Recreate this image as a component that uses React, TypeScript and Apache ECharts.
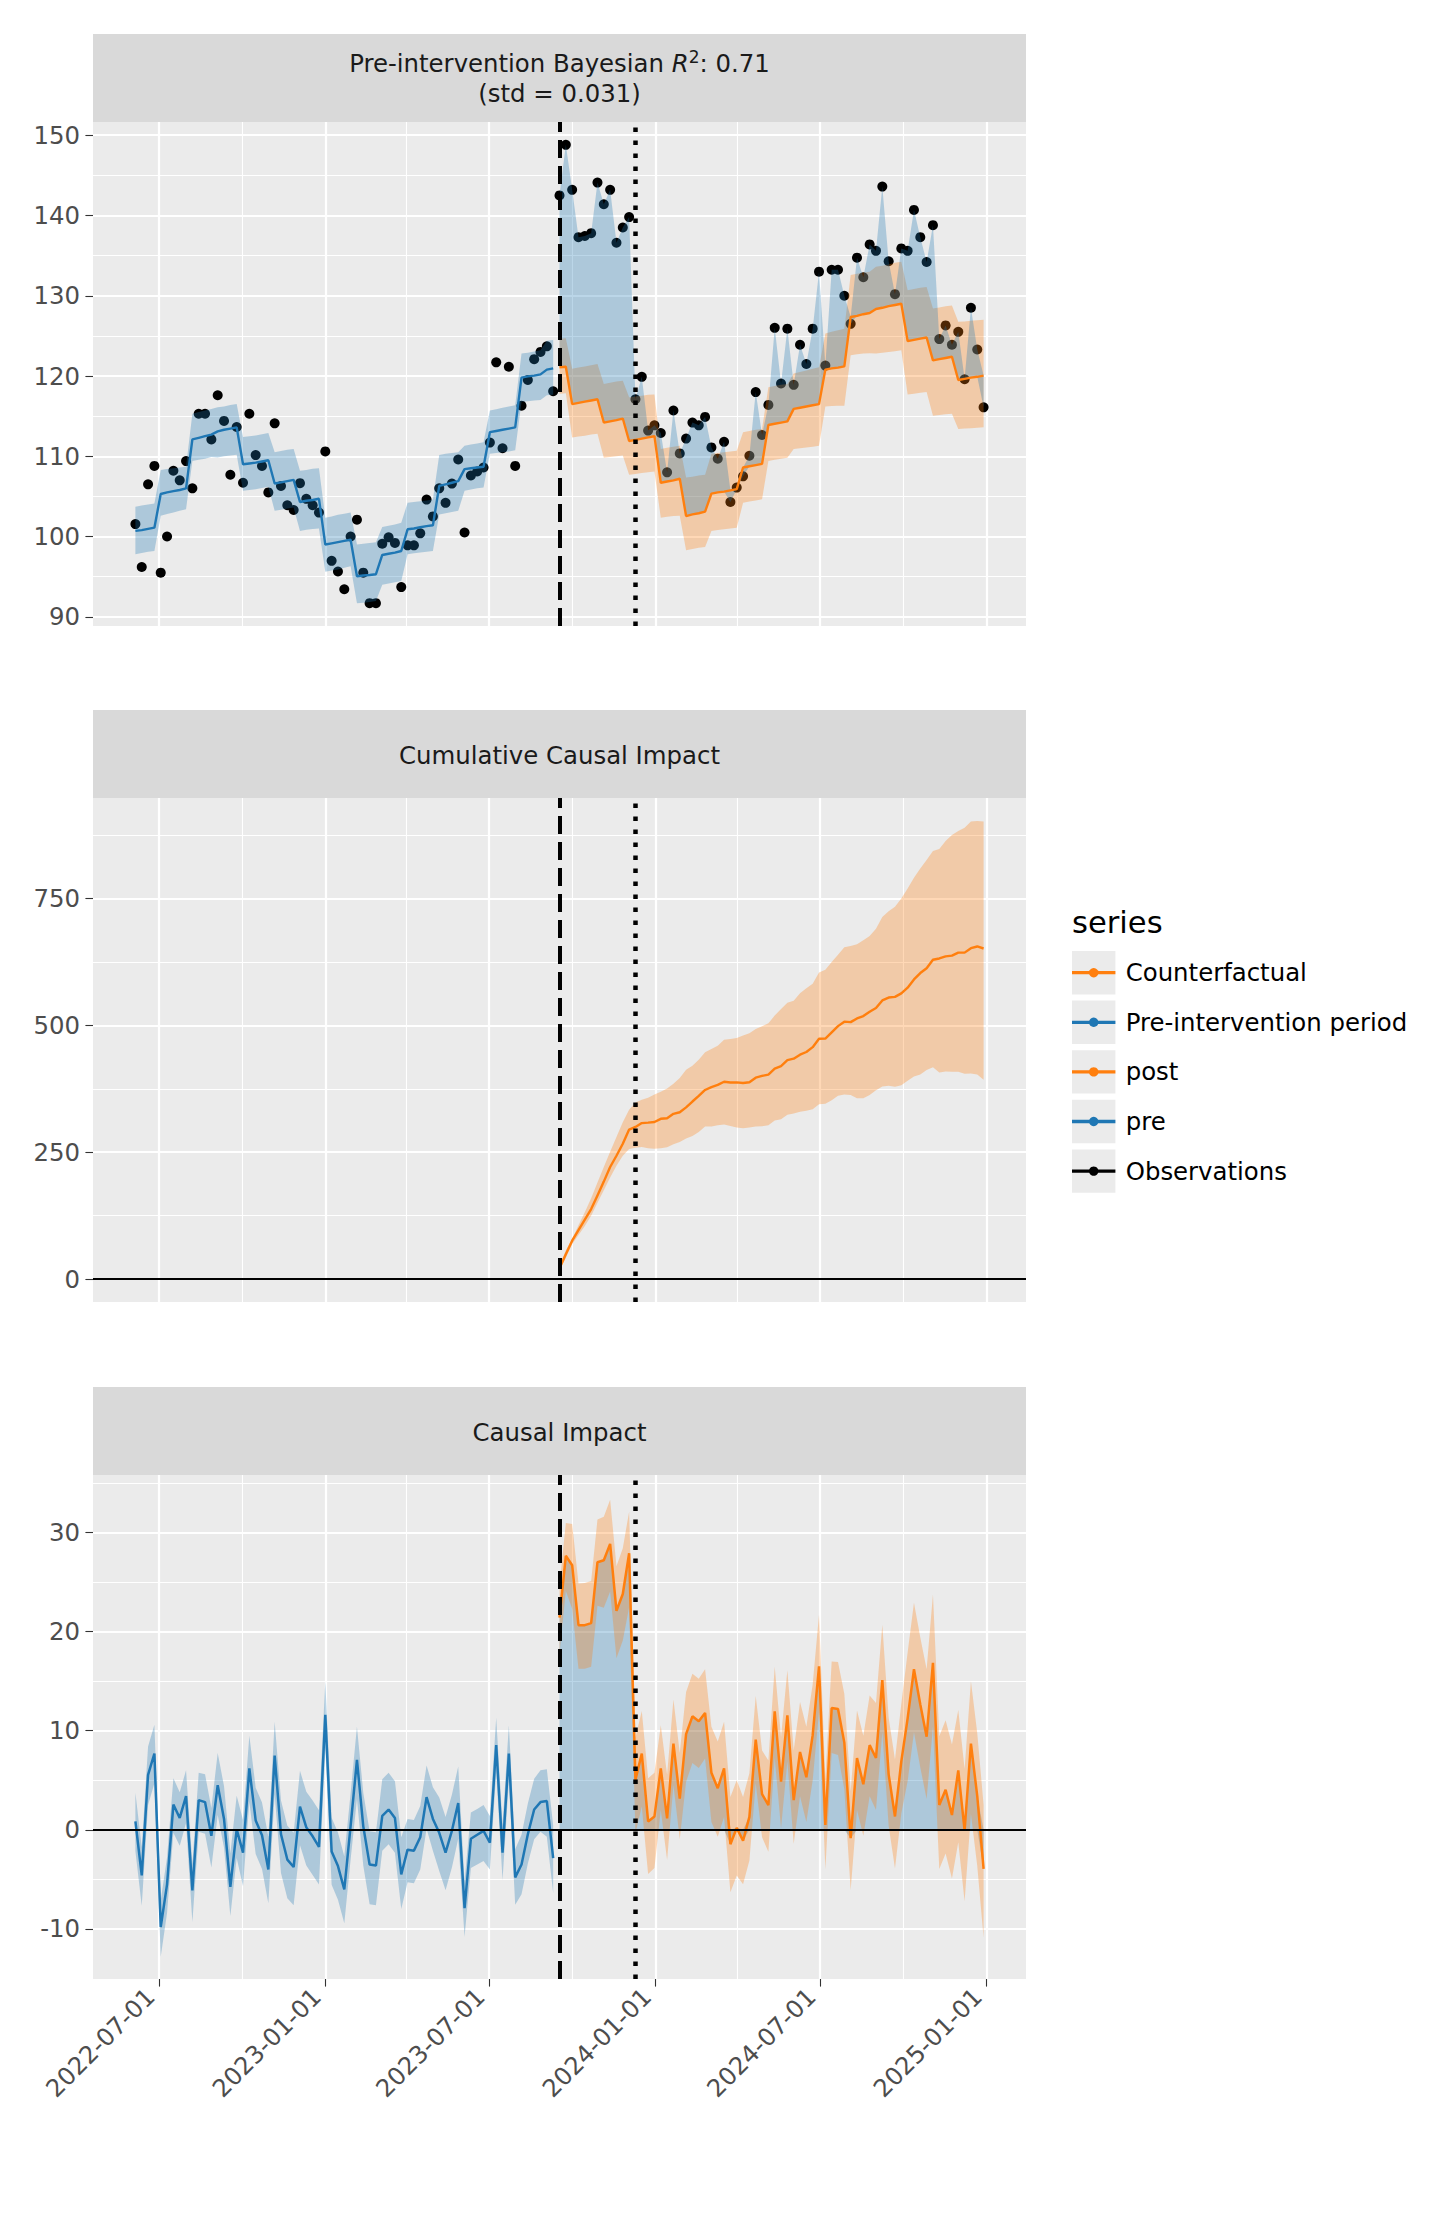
import React, { useEffect, useRef } from "react";
import * as echarts from "echarts";

// ---------------------------------------------------------------------------
// Weekly series (Sundays) from 2022-06-05 to 2024-12-29
// ---------------------------------------------------------------------------
const FIRST_WEEK = "2022-06-05";
const WEEK_COUNT = 135;
const PRE_WEEKS = 67; // weeks before the intervention

const INTERVENTION_DATE = "2023-09-17";
const WINDOW_END_DATE = "2023-12-10";

const dateTicks = ["2022-07-01", "2023-01-01", "2023-07-01", "2024-01-01", "2024-07-01", "2025-01-01"];
const dateMinorTicks = ["2022-10-01", "2023-04-01", "2023-10-01", "2024-04-01", "2024-10-01"];

const fitTicks = [90, 100, 110, 120, 130, 140, 150];
const fitMinorTicks = [95, 105, 115, 125, 135, 145];
const cumulativeTicks = [0, 250, 500, 750];
const cumulativeMinorTicks = [125, 375, 625, 875];
const impactTicks = [-10, 0, 10, 20, 30];
const impactMinorTicks = [-5, 5, 15, 25, 35];

// observed outcome, one value per week
const observed = [
  101.55, 96.2, 106.5, 108.8, 95.5, 100.0, 108.2, 107.0, 109.4, 106.0,
  115.3, 115.3, 112.1, 117.6, 114.4, 107.7, 113.65, 106.7, 115.3, 110.15,
  108.8, 105.5, 114.1, 106.3, 103.9, 103.3, 106.65, 104.7, 103.9, 102.98,
  110.6, 96.97, 95.64, 93.43, 100.0, 102.1, 95.5, 91.7, 91.7, 99.1,
  99.9, 99.2, 93.7, 98.9, 98.9, 100.4, 104.6, 102.5, 106.0, 104.2,
  106.6, 109.6, 100.5, 107.6, 108.1, 108.6, 111.7, 121.7, 111.0, 121.15,
  108.8, 116.3, 119.5, 122.1, 123.0, 123.7, 118.1, 142.5, 148.8, 143.2,
  137.3, 137.45, 137.8, 144.1, 141.4, 143.2, 136.6, 138.5, 139.8, 117.1,
  119.9, 113.2, 113.85, 112.9, 108.0, 115.7, 110.35, 112.2, 114.2, 113.85,
  114.9, 111.1, 109.7, 111.8, 104.3, 106.1, 107.5, 110.06, 118.0, 112.65,
  116.4, 126.0, 119.07, 125.9, 118.9, 123.9, 121.5, 125.9, 133.0, 121.3,
  133.24, 133.24, 130.0, 126.5, 134.75, 132.3, 136.4, 135.6, 143.6, 134.3,
  130.2, 135.9, 135.6, 140.7, 137.3, 134.2, 138.8, 124.6, 126.3, 123.9,
  125.5, 119.6, 128.5, 123.3, 116.1,
];

// pre-intervention model fit (posterior mean) and its HDI
const preFit = [
  100.7, 100.8, 100.95, 101.1,
  105.3, 105.5, 105.65, 105.8, 106.0,
  112.1, 112.3, 112.5, 112.7,
  113.1, 113.3, 113.45, 113.6,
  109.0, 109.1, 109.2, 109.35, 109.5,
  106.6, 106.75, 106.9, 107.05,
  104.3, 104.45, 104.55, 104.7,
  99.0, 99.15, 99.3, 99.45, 99.6,
  95.05, 95.15, 95.2, 95.3,
  97.7, 97.85, 98.0, 98.2,
  100.9, 101.0, 101.15, 101.3, 101.4,
  106.3, 106.5, 106.7, 106.9,
  108.4, 108.5, 108.6, 108.7,
  113.0, 113.15, 113.3, 113.45, 113.6,
  119.8, 119.95, 120.05, 120.2,
  120.8, 120.95,
];
const preUpper = [
  103.7, 103.85, 104.0, 104.1,
  108.3, 108.4, 108.5, 108.6, 108.7,
  115.3, 115.5, 115.7, 115.9,
  116.1, 116.2, 116.4, 116.5,
  112.4, 112.5, 112.6, 112.75, 112.9,
  110.5, 110.65, 110.8, 110.9,
  108.2, 108.3, 108.45, 108.5,
  102.35, 102.5, 102.7, 102.85, 103.0,
  99.0, 99.1, 99.2, 99.3,
  101.2, 101.35, 101.5, 101.7,
  104.2, 104.3, 104.4, 104.5, 104.6,
  110.15, 110.3, 110.4, 110.5,
  111.3, 111.45, 111.6, 111.75,
  115.7, 115.85, 116.05, 116.2, 116.35,
  122.8, 122.9, 123.05, 123.2,
  124.4, 124.5,
];
const preLower = [
  97.8, 97.95, 98.1, 98.2,
  102.6, 102.8, 103.0, 103.2, 103.4,
  109.4, 109.55, 109.7, 109.9,
  109.85, 110.0, 110.1, 110.2,
  105.7, 105.8, 105.9, 106.05, 106.2,
  103.2, 103.35, 103.5, 103.6,
  100.7, 100.85, 100.95, 101.0,
  95.6, 95.75, 95.9, 96.1, 96.3,
  91.7, 91.75, 91.85, 91.95,
  94.0, 94.15, 94.3, 94.45,
  97.8, 97.9, 98.0, 98.1, 98.2,
  102.75, 102.9, 103.05, 103.2,
  105.7, 105.85, 106.0, 106.1,
  110.3, 110.4, 110.5, 110.6, 110.75,
  116.8, 116.85, 116.95, 117.0,
  117.6, 117.65,
];

// counterfactual prediction after the intervention and its HDI
const postFit = [
  121.1, 121.15,
  116.5, 116.65, 116.8, 116.95, 117.1,
  114.2, 114.35, 114.5, 114.7,
  111.9, 112.05, 112.2, 112.35, 112.5,
  106.7, 106.85, 107.0, 107.2,
  102.55, 102.75, 102.9, 103.1,
  105.35, 105.5, 105.6, 105.75, 105.9,
  108.6, 108.75, 108.9, 109.05,
  113.9, 114.05, 114.2, 114.35,
  115.9, 116.05, 116.2, 116.35, 116.5,
  120.8, 120.95, 121.05, 121.2,
  127.35, 127.5, 127.7, 127.85,
  128.35, 128.5, 128.7, 128.85, 129.0,
  124.35, 124.5, 124.65, 124.8,
  121.95, 122.1, 122.25, 122.4,
  119.5, 119.65, 119.8, 119.9, 120.05,
];
const postUpper = [
  124.65, 124.7,
  120.9, 121.05, 121.2, 121.35, 121.5,
  119.0, 119.15, 119.3, 119.4,
  117.35, 117.45, 117.55, 117.65, 117.7,
  110.9, 111.05, 111.2, 111.3,
  107.35, 107.45, 107.6, 107.7,
  110.3, 110.4, 110.5, 110.6, 110.7,
  113.0, 113.15, 113.3, 113.4,
  118.6, 118.75, 118.9, 119.0,
  120.3, 120.5, 120.7, 120.9, 121.1,
  125.3, 125.5, 125.7, 125.9,
  132.6, 132.75, 132.9, 133.0,
  133.6, 133.75, 133.9, 134.1, 134.25,
  130.7, 130.85, 131.0, 131.1,
  128.4, 128.55, 128.7, 128.8,
  126.75, 126.8, 126.9, 126.95, 127.0,
];
const postLower = [
  117.8, 117.85,
  112.35, 112.45, 112.55, 112.7, 112.8,
  109.8, 109.9, 110.0, 110.1,
  107.7, 107.8, 107.9, 108.0, 108.1,
  102.35, 102.45, 102.55, 102.6,
  98.3, 98.45, 98.6, 98.7,
  100.7, 100.8, 100.9, 101.0, 101.1,
  104.2, 104.35, 104.5, 104.65,
  109.4, 109.55, 109.7, 109.8,
  110.9, 111.0, 111.1, 111.2, 111.3,
  116.2, 116.25, 116.3, 116.3,
  122.6, 122.7, 122.8, 122.85,
  122.8, 122.9, 123.0, 123.1, 123.2,
  117.7, 117.8, 117.9, 118.0,
  115.05, 115.15, 115.25, 115.3,
  113.4, 113.45, 113.5, 113.55, 113.6,
];

// HDI of the cumulative causal impact after the intervention
const cumulativeUpper = [
  25, 57, 79.1, 106.1, 131.8, 159.5, 190.5, 220.8, 251.2, 280.2, 309.2, 333.6,
  348, 353.3, 357.3, 363.9, 369.2, 375.7, 385, 396.2, 412.7, 420.6, 432.4, 447,
  453.5, 460.1, 472, 473.3, 475.3, 479.9, 484.5, 493.1, 498.4, 504.3, 519.4, 532.6, 544.5,
  548.5, 563.6, 573.5, 582.1, 604.5, 609.8, 625, 639.4, 653.9, 656.6, 659.9, 667.8, 676.3,
  690.8, 713.9, 725.1, 733.7, 750.2, 769.9, 791, 809.5, 826, 843.8, 847.7, 863.6, 875.4,
  883.3, 889.9, 901.8, 903.1, 901.8,
];
const cumulativeLower = [
  18, 42, 69.2, 87, 104.8, 124.6, 150.3, 175.3, 200.4, 223.5, 243.2, 256.4,
  259.1, 260.4, 257.7, 257.1, 257.7, 259.7, 265.7, 270.3, 276.9, 282.1, 290, 300.6,
  300.6, 303.2, 304.5, 301.9, 298.6, 297.3, 298.6, 300.6, 301.3, 303.2, 312.5, 315.1, 323.7,
  326.3, 329.6, 331.6, 334.9, 344.8, 345.4, 352.7, 361.2, 363.9, 362.6, 356.6, 356.6, 362.6,
  372.4, 379.7, 381, 379, 382.3, 390.9, 399.5, 403.4, 412, 417.3, 407.4, 409.4, 408.7,
  408.7, 404.7, 405.4, 403.4, 392.9,
];

const legendLabels = ["Counterfactual", "Pre-intervention period", "post", "pre", "Observations"];

// ---------------------------------------------------------------------------
// styling
// ---------------------------------------------------------------------------
const FONT = "DejaVu Sans";
const BLUE = "#1f77b4";
const ORANGE = "#ff7f0e";
const BLUE_FILL = "rgba(31,119,180,0.3)";
const ORANGE_FILL = "rgba(255,127,14,0.3)";
const PANEL_BG = "#EBEBEB";
const STRIP_BG = "#D9D9D9";
const AXIS_TEXT = "#4D4D4D";
const TICK_COLOR = "#333333";

const PANEL_LEFT = 93;
const PANEL_WIDTH = 933;
const PANEL_HEIGHT = 504;
const STRIP_HEIGHT = 88;
const panelTops = [122, 798, 1475];

const toTs = (s: string) => {
  const [y, m, d] = s.split("-").map(Number);
  return new Date(y, m - 1, d).getTime();
};
const fmtDate = (v: number) => {
  const d = new Date(Math.round(v));
  const mm = String(d.getMonth() + 1).padStart(2, "0");
  const dd = String(d.getDate()).padStart(2, "0");
  return `${d.getFullYear()}-${mm}-${dd}`;
};

function buildOption() {
  const firstTs = toTs(FIRST_WEEK);
  const weekTs = Array.from({ length: WEEK_COUNT }, (_, k) => {
    const d = new Date(firstTs);
    d.setDate(d.getDate() + 7 * k);
    return d.getTime();
  });
  const preTs = weekTs.slice(0, PRE_WEEKS);
  const postTs = weekTs.slice(PRE_WEEKS);
  const preObs = observed.slice(0, PRE_WEEKS);
  const postObs = observed.slice(PRE_WEEKS);

  const preImpact = preObs.map((v, i) => v - preFit[i]);
  const postImpact = postObs.map((v, i) => v - postFit[i]);
  const cumulative: number[] = [];
  postImpact.reduce((acc, v) => {
    const s = acc + v;
    cumulative.push(s);
    return s;
  }, 0);

  // x-range padded by 5% of the data span on each side
  const span = weekTs[weekTs.length - 1] - weekTs[0];
  const xMin = weekTs[0] - span * 0.05;
  const xMax = weekTs[weekTs.length - 1] + span * 0.05;
  const yRanges: [number, number][] = [
    [88.85, 151.65],
    [-45.2, 948.3],
    [-15.05, 35.8],
  ];
  const majorY = [fitTicks, cumulativeTicks, impactTicks];
  const minorY = [fitMinorTicks, cumulativeMinorTicks, impactMinorTicks];

  const majorX = dateTicks.map(toTs);
  const minorX = dateMinorTicks.map(toTs);

  const grid = panelTops.map((top) => ({
    left: PANEL_LEFT,
    top,
    width: PANEL_WIDTH,
    height: PANEL_HEIGHT,
    show: true,
    backgroundColor: PANEL_BG,
    borderWidth: 0,
    containLabel: false,
  }));

  const xAxis: any[] = [];
  const yAxis: any[] = [];
  // indices 0..2: time axes carrying the data (drawn invisibly)
  for (let g = 0; g < 3; g++) {
    xAxis.push({
      type: "time",
      gridIndex: g,
      min: xMin,
      max: xMax,
      position: "bottom",
      axisLine: { show: false, onZero: false },
      axisTick: { show: false },
      axisLabel: { show: false },
      splitLine: { show: false },
    });
  }
  // indices 3..5: date ticks, labels and major grid lines
  for (let g = 0; g < 3; g++) {
    const bottom = g === 2;
    xAxis.push({
      type: "value",
      gridIndex: g,
      min: xMin,
      max: xMax,
      position: "bottom",
      axisLine: { show: false, onZero: false },
      axisTick: {
        show: bottom,
        length: 7.6,
        customValues: majorX,
        lineStyle: { color: TICK_COLOR, width: 1.1 },
      },
      axisLabel: {
        show: bottom,
        customValues: majorX,
        rotate: 45,
        margin: 22,
        verticalAlign: "bottom",
        formatter: (v: number) => fmtDate(v),
        color: AXIS_TEXT,
        fontFamily: FONT,
        fontSize: 24.4,
      },
      splitLine: { show: true, lineStyle: { color: "#FFFFFF", width: 2.2 } },
    });
  }
  // indices 6..8: minor date grid lines
  for (let g = 0; g < 3; g++) {
    xAxis.push({
      type: "value",
      gridIndex: g,
      min: xMin,
      max: xMax,
      position: "top",
      axisLine: { show: false, onZero: false },
      axisTick: { show: false, customValues: minorX },
      axisLabel: { show: false },
      splitLine: { show: true, lineStyle: { color: "#FFFFFF", width: 1.1 } },
    });
  }
  for (let g = 0; g < 3; g++) {
    yAxis.push({
      type: "value",
      gridIndex: g,
      min: yRanges[g][0],
      max: yRanges[g][1],
      position: "left",
      axisLine: { show: false, onZero: false },
      axisTick: {
        show: true,
        length: 7.6,
        customValues: majorY[g],
        lineStyle: { color: TICK_COLOR, width: 1.1 },
      },
      axisLabel: {
        show: true,
        customValues: majorY[g],
        margin: 13,
        color: AXIS_TEXT,
        fontFamily: FONT,
        fontSize: 24.4,
      },
      splitLine: { show: true, lineStyle: { color: "#FFFFFF", width: 2.2 } },
    });
  }
  for (let g = 0; g < 3; g++) {
    yAxis.push({
      type: "value",
      gridIndex: g,
      min: yRanges[g][0],
      max: yRanges[g][1],
      position: "right",
      axisLine: { show: false, onZero: false },
      axisTick: { show: false, customValues: minorY[g] },
      axisLabel: { show: false },
      splitLine: { show: true, lineStyle: { color: "#FFFFFF", width: 1.1 } },
    });
  }

  const pairs = (ts: number[], vals: number[]) => ts.map((t, i) => [t, vals[i]]);

  // a shaded band between two curves, drawn as a stacked pair of lines
  const band = (id: string, g: number, ts: number[], lower: number[], upper: number[], fill: string) => [
    {
      id: id + "-base",
      type: "line",
      xAxisIndex: g,
      yAxisIndex: g,
      stack: id,
      stackStrategy: "all",
      data: pairs(ts, lower),
      symbol: "none",
      lineStyle: { opacity: 0 },
      silent: true,
    },
    {
      id,
      type: "line",
      xAxisIndex: g,
      yAxisIndex: g,
      stack: id,
      stackStrategy: "all",
      data: pairs(
        ts,
        upper.map((u, i) => u - lower[i])
      ),
      symbol: "none",
      lineStyle: { opacity: 0 },
      areaStyle: { color: fill, opacity: 1 },
      silent: true,
    },
  ];

  const line = (id: string, g: number, ts: number[], vals: number[], color: string, width: number, extra: any = {}) => ({
    id,
    type: "line",
    xAxisIndex: g,
    yAxisIndex: g,
    data: pairs(ts, vals),
    symbol: "none",
    lineStyle: { color, width },
    itemStyle: { color },
    silent: true,
    ...extra,
  });

  const interventionTs = toTs(INTERVENTION_DATE);
  const windowEndTs = toTs(WINDOW_END_DATE);
  const periodLines = [
    { xAxis: interventionTs, lineStyle: { color: "#000", width: 4, type: [18, 8] } },
    { xAxis: windowEndTs, lineStyle: { color: "#000", width: 4.5, type: [4.5, 8.5] } },
  ];
  const zeroLine = { yAxis: 0, lineStyle: { color: "#000", width: 2.2, type: "solid" } };
  const markLine = (data: any[]) => ({
    silent: true,
    symbol: ["none", "none"],
    label: { show: false },
    animation: false,
    data,
  });

  // panel 1: gap between observations and counterfactual
  const gapLower = postObs.map((v, i) => Math.min(v, postFit[i]));
  const gapUpper = postObs.map((v, i) => Math.max(v, postFit[i]));
  // panel 3: impact bands
  const preImpLower = preObs.map((v, i) => v - preUpper[i]);
  const preImpUpper = preObs.map((v, i) => v - preLower[i]);
  const postImpLower = postObs.map((v, i) => v - postUpper[i]);
  const postImpUpper = postObs.map((v, i) => v - postLower[i]);
  const impFillLower = postImpact.map((v) => Math.min(0, v));
  const impFillUpper = postImpact.map((v) => Math.max(0, v));

  const series: any[] = [
    ...band("pre-hdi", 0, preTs, preLower, preUpper, BLUE_FILL),
    ...band("post-hdi", 0, postTs, postLower, postUpper, ORANGE_FILL),
    ...band("impact-area", 0, postTs, gapLower, gapUpper, BLUE_FILL),
    line("pre-fit", 0, preTs, preFit, BLUE, 2.4),
    line("counterfactual", 0, postTs, postFit, ORANGE, 2.4),
    {
      id: "observations",
      type: "scatter",
      xAxisIndex: 0,
      yAxisIndex: 0,
      data: pairs(weekTs, observed),
      symbol: "circle",
      symbolSize: 10,
      itemStyle: { color: "#000000", opacity: 1 },
      silent: true,
      markLine: markLine(periodLines),
    },

    ...band("cumulative-hdi", 1, postTs, cumulativeLower, cumulativeUpper, ORANGE_FILL),
    line("cumulative", 1, postTs, cumulative, ORANGE, 2.4, { markLine: markLine([zeroLine, ...periodLines]) }),

    ...band("pre-impact-hdi", 2, preTs, preImpLower, preImpUpper, BLUE_FILL),
    ...band("post-impact-fill", 2, postTs, impFillLower, impFillUpper, BLUE_FILL),
    ...band("post-impact-hdi", 2, postTs, postImpLower, postImpUpper, ORANGE_FILL),
    line("pre-impact", 2, preTs, preImpact, BLUE, 2.5),
    line("post-impact", 2, postTs, postImpact, ORANGE, 2.5, { markLine: markLine([zeroLine, ...periodLines]) }),
  ];

  // strip headers and legend
  const stripTops = panelTops.map((t) => t - STRIP_HEIGHT);
  const centerX = PANEL_LEFT + PANEL_WIDTH / 2;
  const textStyle = (extra: any) => ({ fontFamily: FONT, fontSize: 24.4, fill: "#1A1A1A", ...extra });

  const graphic: any[] = [];
  stripTops.forEach((top) => {
    graphic.push({
      type: "rect",
      silent: true,
      shape: { x: PANEL_LEFT, y: top, width: PANEL_WIDTH, height: STRIP_HEIGHT },
      style: { fill: STRIP_BG },
    });
  });
  graphic.push({
    type: "text",
    silent: true,
    x: centerX,
    y: stripTops[0] + 26,
    style: {
      text: "{a|Pre-intervention Bayesian }{r|R}{s|2}{a|: 0.71}",
      align: "center",
      verticalAlign: "middle",
      rich: {
        a: { fontFamily: FONT, fontSize: 24.4, fill: "#1A1A1A", lineHeight: 30, verticalAlign: "bottom" },
        r: { fontFamily: FONT, fontSize: 24.4, fontStyle: "italic", fill: "#1A1A1A", lineHeight: 30, verticalAlign: "bottom" },
        s: { fontFamily: FONT, fontSize: 17, fill: "#1A1A1A", lineHeight: 30, padding: [0, 0, 10, 0], verticalAlign: "bottom" },
      },
    },
  });
  graphic.push({
    type: "text",
    silent: true,
    x: centerX,
    y: stripTops[0] + 59,
    style: textStyle({ text: "(std = 0.031)", align: "center", verticalAlign: "middle" }),
  });
  graphic.push({
    type: "text",
    silent: true,
    x: centerX,
    y: stripTops[1] + 45,
    style: textStyle({ text: "Cumulative Causal Impact", align: "center", verticalAlign: "middle" }),
  });
  graphic.push({
    type: "text",
    silent: true,
    x: centerX,
    y: stripTops[2] + 45,
    style: textStyle({ text: "Causal Impact", align: "center", verticalAlign: "middle" }),
  });

  const legendX = 1072;
  const legendTop = 951;
  const keySize = 43.4;
  const keyStep = 49.6;
  const legendColors = [ORANGE, BLUE, ORANGE, BLUE, "#000000"];
  graphic.push({
    type: "text",
    silent: true,
    x: legendX,
    y: 922,
    style: { text: "series", fontFamily: FONT, fontSize: 30.6, fill: "#000000", align: "left", verticalAlign: "middle" },
  });
  legendLabels.forEach((label, i) => {
    const top = legendTop + i * keyStep;
    const cy = top + keySize / 2;
    graphic.push({
      type: "rect",
      silent: true,
      shape: { x: legendX, y: top, width: keySize, height: keySize },
      style: { fill: PANEL_BG },
    });
    graphic.push({
      type: "line",
      silent: true,
      shape: { x1: legendX, y1: cy, x2: legendX + keySize, y2: cy },
      style: { stroke: legendColors[i], lineWidth: 3.3 },
    });
    graphic.push({
      type: "circle",
      silent: true,
      shape: { cx: legendX + keySize / 2, cy, r: 4.7 },
      style: { fill: legendColors[i] },
    });
    graphic.push({
      type: "text",
      silent: true,
      x: legendX + 53.7,
      y: cy,
      style: { text: label, fontFamily: FONT, fontSize: 24.4, fill: "#000000", align: "left", verticalAlign: "middle" },
    });
  });

  return {
    animation: false,
    backgroundColor: "#FFFFFF",
    textStyle: { fontFamily: FONT },
    grid,
    xAxis,
    yAxis,
    series,
    graphic,
  };
}

export default function App() {
  const ref = useRef<HTMLDivElement>(null);
  useEffect(() => {
    if (!ref.current) return;
    const chart = echarts.init(ref.current, undefined, { renderer: "svg" });
    chart.setOption(buildOption() as any);
    return () => {
      chart.dispose();
    };
  }, []);
  return (
    <div
      ref={ref}
      style={{ position: "absolute", left: 0, top: 0, width: 1439, height: 2240 }}
    />
  );
}
